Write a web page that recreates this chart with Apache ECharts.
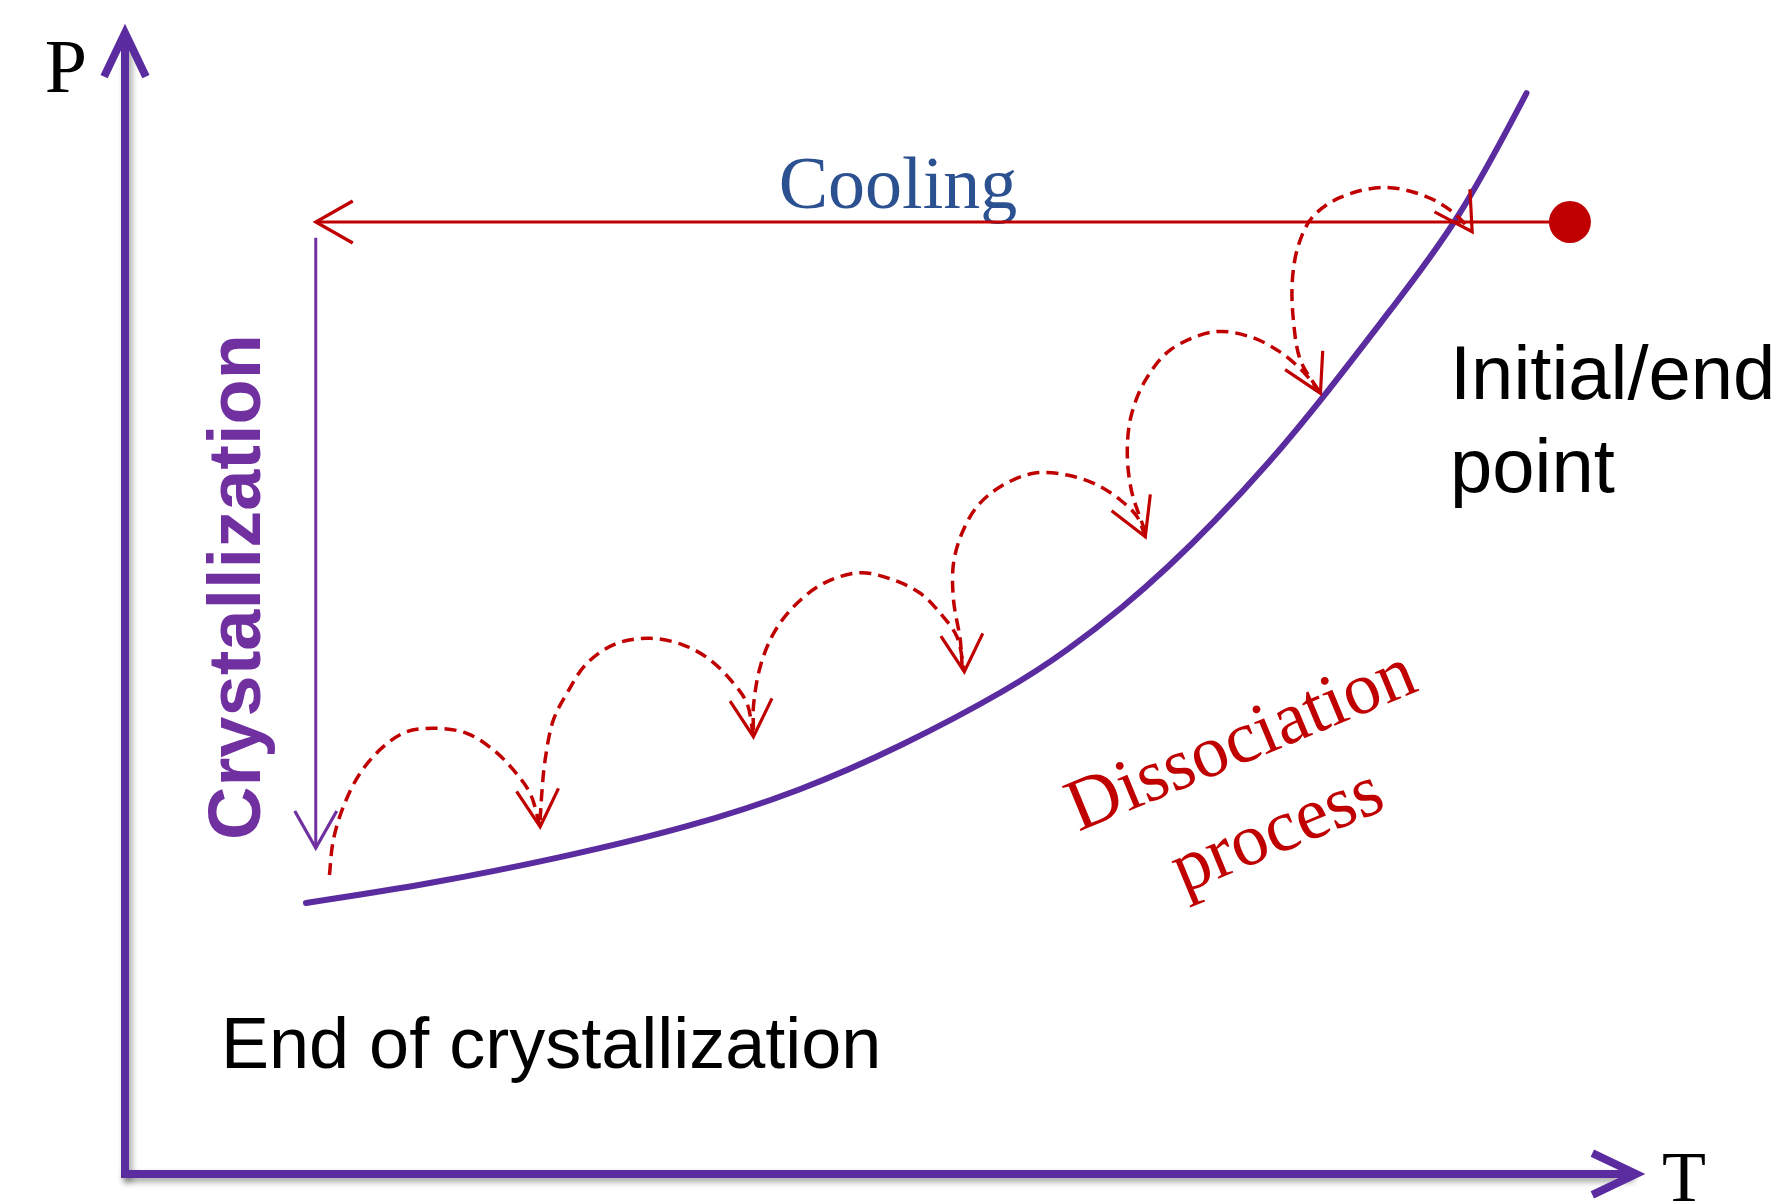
<!DOCTYPE html>
<html>
<head>
<meta charset="utf-8">
<script src="https://cdn.jsdelivr.net/npm/echarts/dist/echarts.min.js"></script>
<style>
html,body{margin:0;padding:0;background:#ffffff;}
#chart{width:1788px;height:1203px;}
</style>
</head>
<body>
<div id="chart"></div>
<script>
// ---- data (T, P in arbitrary units 0..100) ----
const curveT = [12.05, 20.31, 28.97, 37.63, 44.96, 51.62, 59.01, 62.80, 66.47, 69.46, 72.39, 76.12, 79.92, 84.25, 88.78, 93.31];
const curveP = [23.94, 25.62, 27.92, 30.65, 33.83, 37.72, 42.93, 46.29, 50.09, 53.62, 57.42, 62.72, 68.82, 76.33, 84.10, 95.49];

const coolT = [96.2, 12.7];
const coolP = [84.1, 84.1];

const crystT = [12.7, 12.7];
const crystP = [82.7, 28.8];

const startT = [96.2];
const startP = [84.1];

const arc1T = [13.61, 13.87, 14.54, 15.65, 17.20, 18.76, 20.76, 22.76, 24.53, 25.86, 26.97, 27.64];
const arc1P = [26.41, 29.51, 32.45, 35.40, 37.75, 39.07, 39.37, 38.93, 37.46, 35.69, 33.63, 30.68];
const arc2T = [27.64, 27.75, 27.97, 28.52, 29.42, 30.75, 32.75, 34.97, 37.18, 38.96, 40.51, 41.41, 41.84];
const arc2P = [31.27, 33.63, 36.57, 40.11, 42.46, 45.11, 46.88, 47.32, 46.73, 45.41, 43.35, 41.58, 38.63];
const arc3T = [41.84, 41.84, 42.29, 43.18, 44.51, 46.51, 48.95, 51.17, 52.95, 54.28, 55.39, 55.88];
const arc3P = [39.22, 41.28, 44.81, 47.75, 50.11, 52.18, 53.12, 52.47, 51.30, 49.53, 47.46, 44.37];
const arc4T = [55.74, 55.61, 55.16, 55.16, 55.72, 56.72, 58.27, 60.49, 62.72, 64.72, 66.27, 67.38, 67.93];
const arc4P = [44.70, 47.17, 50.71, 53.95, 56.60, 58.95, 60.71, 61.90, 61.75, 60.87, 59.54, 58.07, 56.30];
const arc5T = [67.93, 67.00, 66.73, 67.00, 67.93, 69.60, 72.53, 74.93, 76.92, 78.46, 79.59];
const arc5P = [56.71, 60.42, 63.95, 67.05, 70.10, 72.80, 74.40, 73.95, 72.60, 70.85, 69.00];
const arc6T = [79.45, 78.26, 77.79, 77.72, 78.12, 79.04, 80.91, 83.78, 86.45, 88.25, 89.71];
const arc6P = [69.23, 71.88, 75.41, 78.94, 82.03, 84.50, 86.27, 87.15, 86.45, 85.12, 83.27];

// arrow heads: tip and a point behind the tip giving the direction
const redTipT  = [27.64, 41.84, 55.88, 67.93, 79.59, 89.69, 12.70];
const redTipP  = [30.68, 38.63, 44.37, 56.30, 68.96, 83.24, 84.10];
const redBaseT = [27.47, 41.68, 55.72, 67.02, 78.59, 88.52, 15.30];
const redBaseP = [33.88, 41.87, 47.54, 59.17, 71.62, 85.67, 84.10];
const purTipT  = [12.7];
const purTipP  = [28.8];
const purBaseT = [12.7];
const purBaseP = [32.1];

// ---- helpers ----
const zip = (a, b) => a.map((v, i) => [v, b[i]]);
const zip4 = (a, b, c, d) => a.map((v, i) => [v, b[i], c[i], d[i]]);

const RED = '#c00000';
const PURPLE = '#5b2c9f';
const CRYST = '#7030a0';
const SERIF = '"Liberation Serif","Times New Roman",serif';
const SANS = '"Liberation Sans",Arial,sans-serif';

const chevron = 'path://M24.6,0 L49.2,51.5 L42,54.9 L24.6,18.4 L7.2,54.9 L0,51.5 Z';

function axisCommon() {
  return {
    type: 'value', min: 0, max: 100,
    axisLabel: {show: false}, axisTick: {show: false}, splitLine: {show: false},
    axisLine: {
      show: true,
      symbol: ['none', chevron],
      symbolSize: [49, 55],
      symbolOffset: [0, -9],
      lineStyle: {
        color: PURPLE, width: 8, cap: 'square',
        shadowColor: 'rgba(0,0,0,0.35)', shadowBlur: 6, shadowOffsetX: 3, shadowOffsetY: 4
      }
    }
  };
}

// centripetal Catmull-Rom path through pixel points
function catmullRomPath(pts) {
  const n = pts.length;
  let d = 'M' + pts[0][0] + ',' + pts[0][1];
  for (let i = 0; i < n - 1; i++) {
    const p0 = pts[Math.max(i - 1, 0)], p1 = pts[i], p2 = pts[i + 1], p3 = pts[Math.min(i + 2, n - 1)];
    const a = 0.5;
    const d1 = Math.pow(Math.hypot(p1[0] - p0[0], p1[1] - p0[1]), a) || 1e-6;
    const d2 = Math.pow(Math.hypot(p2[0] - p1[0], p2[1] - p1[1]), a) || 1e-6;
    const d3 = Math.pow(Math.hypot(p3[0] - p2[0], p3[1] - p2[1]), a) || 1e-6;
    let c1x, c1y, c2x, c2y;
    if (i === 0) { c1x = p1[0] + (p2[0] - p1[0]) / 3; c1y = p1[1] + (p2[1] - p1[1]) / 3; }
    else {
      c1x = (d1 * d1 * p2[0] - d2 * d2 * p0[0] + (2 * d1 * d1 + 3 * d1 * d2 + d2 * d2) * p1[0]) / (3 * d1 * (d1 + d2));
      c1y = (d1 * d1 * p2[1] - d2 * d2 * p0[1] + (2 * d1 * d1 + 3 * d1 * d2 + d2 * d2) * p1[1]) / (3 * d1 * (d1 + d2));
    }
    if (i === n - 2) { c2x = p2[0] - (p2[0] - p1[0]) / 3; c2y = p2[1] - (p2[1] - p1[1]) / 3; }
    else {
      c2x = (d3 * d3 * p1[0] - d2 * d2 * p3[0] + (2 * d3 * d3 + 3 * d3 * d2 + d2 * d2) * p2[0]) / (3 * d3 * (d3 + d2));
      c2y = (d3 * d3 * p1[1] - d2 * d2 * p3[1] + (2 * d3 * d3 + 3 * d3 * d2 + d2 * d2) * p2[1]) / (3 * d3 * (d3 + d2));
    }
    d += ' C' + c1x + ',' + c1y + ' ' + c2x + ',' + c2y + ' ' + p2[0] + ',' + p2[1];
  }
  return d;
}

// clamped uniform cubic B-spline path (smooths reading noise) through pixel control points
function bsplinePath(pts) {
  const f = pts[0], l = pts[pts.length - 1];
  const e = [f, f].concat(pts, [l, l]);
  let d = 'M' + f[0] + ',' + f[1];
  for (let j = 0; j + 3 < e.length; j++) {
    const q1 = e[j + 1], q2 = e[j + 2], q3 = e[j + 3];
    const c1 = [(2 * q1[0] + q2[0]) / 3, (2 * q1[1] + q2[1]) / 3];
    const c2 = [(q1[0] + 2 * q2[0]) / 3, (q1[1] + 2 * q2[1]) / 3];
    const en = [(q1[0] + 4 * q2[0] + q3[0]) / 6, (q1[1] + 4 * q2[1] + q3[1]) / 6];
    d += ' C' + c1[0] + ',' + c1[1] + ' ' + c2[0] + ',' + c2[1] + ' ' + en[0] + ',' + en[1];
  }
  return d;
}

function splineSeries(T, P, lineStyle, z, pathFn) {
  return {
    type: 'custom', data: zip(T, P), encode: {x: 0, y: 1}, clip: false, z: z, silent: true,
    renderItem: function (params, api) {
      if (params.dataIndex !== T.length - 1) return null;
      const pts = T.map((t, i) => api.coord([t, P[i]]));
      return {
        type: 'path',
        shape: {pathData: pathFn(pts)},
        style: Object.assign({fill: null}, lineStyle)
      };
    }
  };
}

function arrowRender(params, api) {
  const tip = api.coord([api.value(0), api.value(1)]);
  const base = api.coord([api.value(2), api.value(3)]);
  let dx = tip[0] - base[0], dy = tip[1] - base[1];
  const len = Math.hypot(dx, dy) || 1;
  dx /= len; dy /= len;
  const L = 37, W = 21;
  const bx = tip[0] - dx * L, by = tip[1] - dy * L;
  const p1 = [bx - dy * W, by + dx * W];
  const p2 = [bx + dy * W, by - dx * W];
  return {
    type: 'polyline',
    shape: {points: [p1, tip, p2]},
    style: {stroke: api.visual('color'), lineWidth: 3.2, fill: null, lineJoin: 'miter'}
  };
}

const arcStyle = {stroke: RED, lineWidth: 3.5, lineDash: [12, 7]};

const chart = echarts.init(document.getElementById('chart'), null, {renderer: 'canvas'});
const rot = 22.5 * Math.PI / 180;
const option = {
  animation: false,
  backgroundColor: '#ffffff',
  grid: {left: 125, right: 161, top: 42, bottom: 29, containLabel: false, outerBoundsMode: 'none'},
  xAxis: axisCommon(),
  yAxis: axisCommon(),
  series: [
    splineSeries(curveT, curveP, {stroke: PURPLE, lineWidth: 6, lineCap: 'round'}, 2, bsplinePath),
    {type: 'line', data: zip(coolT, coolP), showSymbol: false, symbol: 'none',
     lineStyle: {color: RED, width: 3}, z: 4, silent: true},
    {type: 'line', data: zip(crystT, crystP), showSymbol: false, symbol: 'none',
     lineStyle: {color: CRYST, width: 3}, z: 4, silent: true},
    splineSeries(arc1T, arc1P, arcStyle, 3, catmullRomPath),
    splineSeries(arc2T, arc2P, arcStyle, 3, catmullRomPath),
    splineSeries(arc3T, arc3P, arcStyle, 3, catmullRomPath),
    splineSeries(arc4T, arc4P, arcStyle, 3, catmullRomPath),
    splineSeries(arc5T, arc5P, arcStyle, 3, catmullRomPath),
    splineSeries(arc6T, arc6P, arcStyle, 3, catmullRomPath),
    {type: 'custom', renderItem: arrowRender, data: zip4(redTipT, redTipP, redBaseT, redBaseP),
     encode: {x: [0, 2], y: [1, 3]}, itemStyle: {color: RED}, clip: false, z: 5, silent: true},
    {type: 'custom', renderItem: arrowRender, data: zip4(purTipT, purTipP, purBaseT, purBaseP),
     encode: {x: [0, 2], y: [1, 3]}, itemStyle: {color: CRYST}, clip: false, z: 5, silent: true},
    {type: 'scatter', data: zip(startT, startP), symbol: 'circle', symbolSize: 42,
     itemStyle: {color: RED, opacity: 1}, z: 6, silent: true}
  ],
  graphic: [
    {type: 'text', x: 66, y: 72, style: {text: 'P', fontFamily: SERIF, fontSize: 76, fill: '#000', align: 'center', verticalAlign: 'middle'}},
    {type: 'text', x: 1684, y: 1182, style: {text: 'T', fontFamily: SERIF, fontSize: 72, fill: '#000', align: 'center', verticalAlign: 'middle'}},
    {type: 'text', x: 898, y: 189, style: {text: 'Cooling', fontFamily: SERIF, fontSize: 74, fill: '#2b5191', align: 'center', verticalAlign: 'middle'}},
    {type: 'text', x: 1450, y: 378, style: {text: 'Initial/end', fontFamily: SANS, fontSize: 76, fill: '#000', align: 'left', verticalAlign: 'middle'}},
    {type: 'text', x: 1450, y: 471, style: {text: 'point', fontFamily: SANS, fontSize: 76, fill: '#000', align: 'left', verticalAlign: 'middle'}},
    {type: 'text', x: 221, y: 1048, style: {text: 'End of crystallization', fontFamily: SANS, fontSize: 72, fill: '#000', align: 'left', verticalAlign: 'middle'}},
    {type: 'text', x: 240, y: 587, rotation: Math.PI / 2, style: {text: 'Crystallization', fontFamily: SANS, fontWeight: 'bold', fontSize: 74, fill: CRYST, align: 'center', verticalAlign: 'middle'}},
    {type: 'text', x: 1242, y: 743, rotation: rot, style: {text: 'Dissociation', fontFamily: SERIF, fontSize: 74, fill: RED, align: 'center', verticalAlign: 'middle'}},
    {type: 'text', x: 1278, y: 833, rotation: rot, style: {text: 'process', fontFamily: SERIF, fontSize: 74, fill: RED, align: 'center', verticalAlign: 'middle'}}
  ]
};
chart.setOption(option);
</script>
</body>
</html>
